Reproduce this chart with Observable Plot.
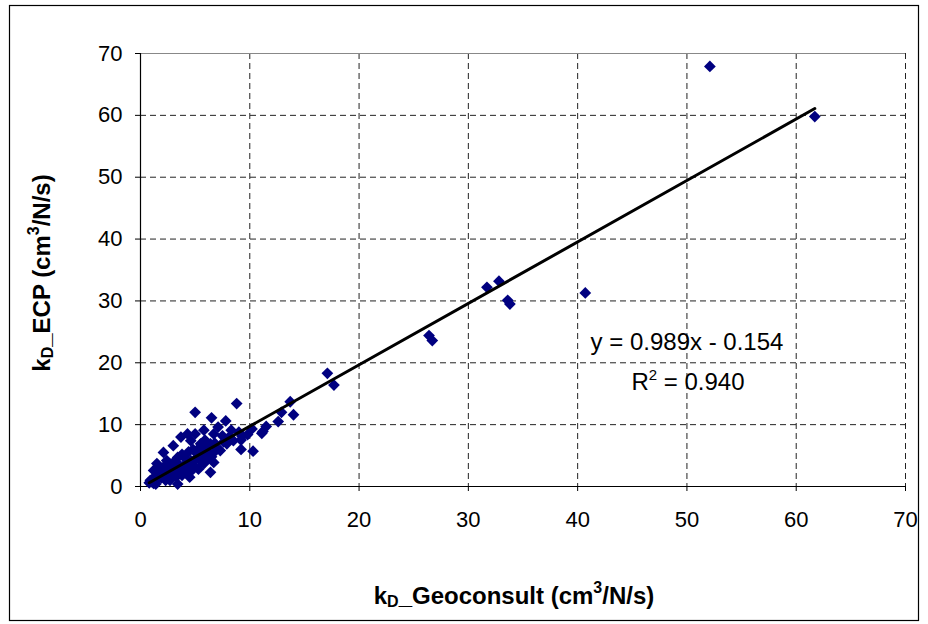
<!DOCTYPE html>
<html><head><meta charset="utf-8">
<script src="https://cdn.jsdelivr.net/npm/d3@7"></script>
<script src="https://cdn.jsdelivr.net/npm/@observablehq/plot@0.6"></script>
<style>
body{margin:0;background:#fff}
#chart{width:928px;height:624px}
</style>
</head><body><div id="chart"></div>
<script>
// k_D Geoconsult (x) vs k_D ECP (y), cm3/N/s
const geoconsult = [0.8,0.9,1.0,1.1,1.2,1.3,1.4,1.5,1.2,1.5,1.6,1.8,1.9,2.0,2.1,2.1,2.2,2.3,2.4,2.5,2.6,2.7,2.8,2.9,3.0,3.0,3.1,3.2,3.3,3.4,3.4,3.5,3.6,3.7,3.8,3.8,3.9,4.0,4.1,4.2,4.3,4.4,4.5,4.5,4.6,4.6,4.7,4.8,4.9,5.0,5.0,5.1,5.2,5.3,5.4,5.5,5.6,5.7,5.8,5.8,5.9,6.0,6.1,6.2,6.4,6.4,6.5,6.5,6.6,6.7,6.7,6.8,7.0,7.1,7.3,7.5,7.6,7.8,7.9,8.1,8.3,8.5,8.8,9.0,9.2,9.2,9.3,9.8,10.2,10.3,11.1,11.2,11.5,12.6,12.9,13.7,14.0,17.1,17.7,26.4,26.7,31.7,32.8,33.6,33.8,40.7,52.1,61.7];
const ecp =        [0.6,1.0,0.8,1.2,0.5,1.5,0.4,1.1,2.6,3.7,1.8,2.9,1.4,2.2,2.1,5.5,3.3,1.0,4.2,2.6,1.8,1.0,3.6,2.2,6.6,2.6,4.0,3.0,1.6,0.4,4.7,2.4,3.4,8.0,1.8,5.2,3.0,4.7,2.3,3.8,8.5,5.6,1.5,3.2,7.4,4.2,2.6,6.0,3.4,12.0,8.5,4.6,5.3,2.8,6.3,6.9,4.0,5.0,9.1,3.7,7.5,5.8,4.4,6.6,2.3,6.9,11.1,4.8,5.3,8.5,3.9,7.0,6.2,9.6,5.8,8.2,7.2,10.6,6.9,8.0,9.1,7.4,13.4,8.8,6.0,7.5,8.1,8.4,9.3,5.7,8.6,8.9,9.7,10.5,12.0,13.7,11.6,18.3,16.4,24.4,23.6,32.2,33.2,30.1,29.5,31.3,67.9,59.8];
const xTicks = [0,10,20,30,40,50,60,70];
const yTicks = [0,10,20,30,40,50,60,70];
// trendline endpoints as drawn
const trendX = [0.8, 61.7];
const trendY = [0.6, 61.1];
const equationText = "y = 0.989x - 0.154";
const r2Value = "0.940";
const xTitle = ["k","D","_Geoconsult (cm","3","/N/s)"];
const yTitle = ["k","D","_ECP (cm","3","/N/s)"];

const points = geoconsult.map((x,i)=>({x, y: ecp[i]}));
const trend = trendX.map((x,i)=>({x, y: trendY[i]}));
const font = "'Liberation Sans', Arial, sans-serif";
const diamond = d3.symbolDiamond2 || "diamond";

const plot = Plot.plot({
  width: 928, height: 624,
  marginLeft: 140, marginRight: 23, marginTop: 53, marginBottom: 138,
  style: {fontFamily: font, background: "#fff", color: "#000"},
  x: {domain: [0,70]},
  y: {domain: [0,70]},
  marks: [
    Plot.gridX(xTicks.slice(1), {stroke: "#222", strokeOpacity: 1, strokeDasharray: "6,4"}),
    Plot.gridY(yTicks.slice(1,-1), {stroke: "#222", strokeOpacity: 1, strokeDasharray: "6,4"}),
    Plot.ruleY([yTicks[yTicks.length-1]], {stroke: "#888", strokeWidth: 1.2}),
    Plot.axisX({ticks: xTicks, tickSize: 5, tickPadding: 20, fontSize: 22, label: null, stroke: "#000"}),
    Plot.axisY({ticks: yTicks, tickSize: 5, tickPadding: 13, fontSize: 22, label: null, stroke: "#000"}),
    Plot.ruleY([0], {stroke: "#000", strokeWidth: 1.2}),
    Plot.ruleX([0], {stroke: "#000", strokeWidth: 1.2}),
    Plot.dot(points, {x: "x", y: "y", symbol: diamond, r: 5.3, fill: "#000080", stroke: "none"}),
    Plot.line(trend, {x: "x", y: "y", stroke: "#000", strokeWidth: 3})
  ]
});
document.getElementById("chart").appendChild(plot);

const svg = d3.select(plot);
// outer chart border
svg.append("rect").attr("x", 9.5).attr("y", 5.5).attr("width", 909).attr("height", 615)
  .attr("fill", "none").attr("stroke", "#000").attr("stroke-width", 1.2);

function title(parts, transform) {
  const t = svg.append("text").attr("transform", transform)
    .attr("text-anchor", "middle").attr("font-family", font)
    .attr("font-weight", "bold").attr("font-size", 24).attr("fill", "#000");
  t.append("tspan").text(parts[0]);
  t.append("tspan").attr("font-size", 16).attr("dy", 3).text(parts[1]);
  t.append("tspan").attr("dy", -3).text(parts[2]);
  t.append("tspan").attr("font-size", 16).attr("dy", -11).text(parts[3]);
  t.append("tspan").attr("dy", 11).text(parts[4]);
}
title(xTitle, "translate(514,604)");
title(yTitle, "translate(50,273) rotate(-90)");

// trendline annotation
svg.append("text").attr("x", 687).attr("y", 350)
  .attr("text-anchor", "middle").attr("font-family", font).attr("font-size", 24).attr("fill", "#000")
  .text(equationText);
const r2 = svg.append("text").attr("x", 688).attr("y", 390)
  .attr("text-anchor", "middle").attr("font-family", font).attr("font-size", 24).attr("fill", "#000");
r2.append("tspan").text("R");
r2.append("tspan").attr("font-size", 15).attr("dy", -10).text("2");
r2.append("tspan").attr("dy", 10).text(" = " + r2Value);
</script>
</body></html>
